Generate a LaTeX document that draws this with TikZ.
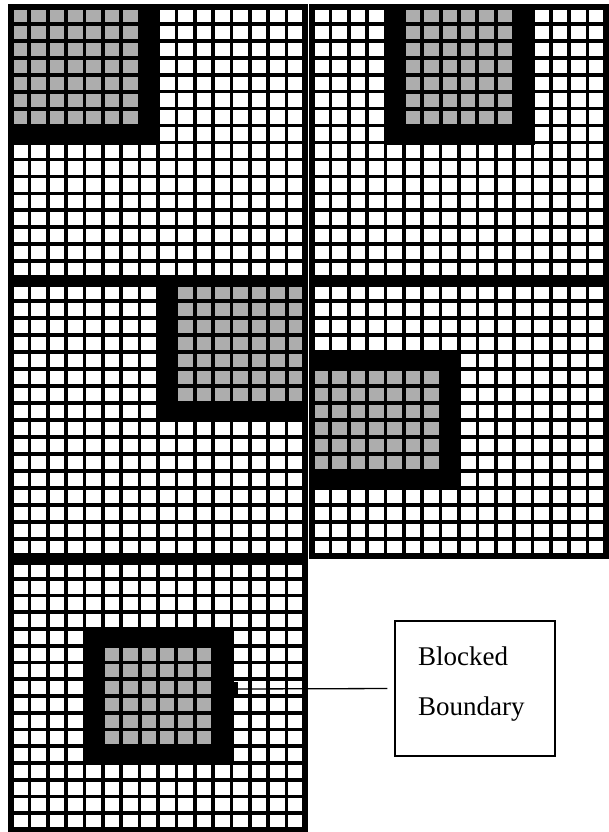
\documentclass[tikz,border=0pt]{standalone}
\usepackage{fontspec}
\setmainfont{Liberation Serif}
\definecolor{cellgray}{gray}{0.68}
\tikzset{
  gridline/.style={line width=3.6pt, black},
  panelborder/.style={line width=6pt, black},
  shadecell/.style={fill=cellgray},
  darkfill/.style={fill=black},
  calloutbox/.style={draw, line width=1.3pt, minimum width=160pt, minimum height=135pt, inner sep=0pt},
  calloutline/.style={line width=1.3pt},
  callouttext/.style={font=\fontsize{27}{30}\selectfont, inner sep=0pt, anchor=base west}
}
% #1 X, #2 Y, #3 H, #4 c0, #5 r0, #6 sc0, #7 sc1, #8 sr0, #9 sr1
\newcommand\gridpanel[9]{%
  \begin{scope}[shift={(#1,#2)}]
    \pgfmathsetmacro\cw{294/16}
    \pgfmathsetmacro\ch{#3/16}
    \fill[darkfill] ({#4*\cw-2},{#5*\ch-2}) rectangle ({(#4+8)*\cw+2},{(#5+8)*\ch+2});
    \foreach \i in {1,...,15}{
      \draw[gridline] ({\i*\cw},0) -- ({\i*\cw},#3);
      \draw[gridline] (0,{\i*\ch}) -- (294,{\i*\ch});
    }
    \foreach \i in {#6,...,#7}{
      \foreach \j in {#8,...,#9}{
        \fill[shadecell] ({\i*\cw+1.9},{\j*\ch+1.9}) rectangle ({(\i+1)*\cw-1.9},{(\j+1)*\ch-1.9});
      }
    }
    \draw[panelborder] (0,0) rectangle (294,#3);
  \end{scope}%
}
\begin{document}
\begin{tikzpicture}[x=1pt,y=-1pt]
  \useasboundingbox[fill=white] (0,0) rectangle (608,832);
  \gridpanel{11}{7}{271}{0}{0}{0}{6}{0}{6}
  \gridpanel{312}{7}{271}{4}{0}{5}{10}{0}{6}
  \gridpanel{11}{284}{272}{8}{0}{9}{15}{0}{6}
  \gridpanel{312}{284}{272}{0}{4}{0}{6}{5}{10}
  \gridpanel{11}{562}{268}{4}{4}{5}{10}{5}{10}
  % callout
  \fill[darkfill] (231,682) rectangle (238,697);
  \coordinate (bb) at (231.5,689);
  \node[calloutbox] (box) at (475,688.5) {};
  \node[callouttext] (t1) at (418,665) {Blocked};
  \node[callouttext] (t2) at (418,715) {Boundary};
  \draw[calloutline, shorten >=7pt] (bb) -- (box.west);
\end{tikzpicture}
\end{document}
